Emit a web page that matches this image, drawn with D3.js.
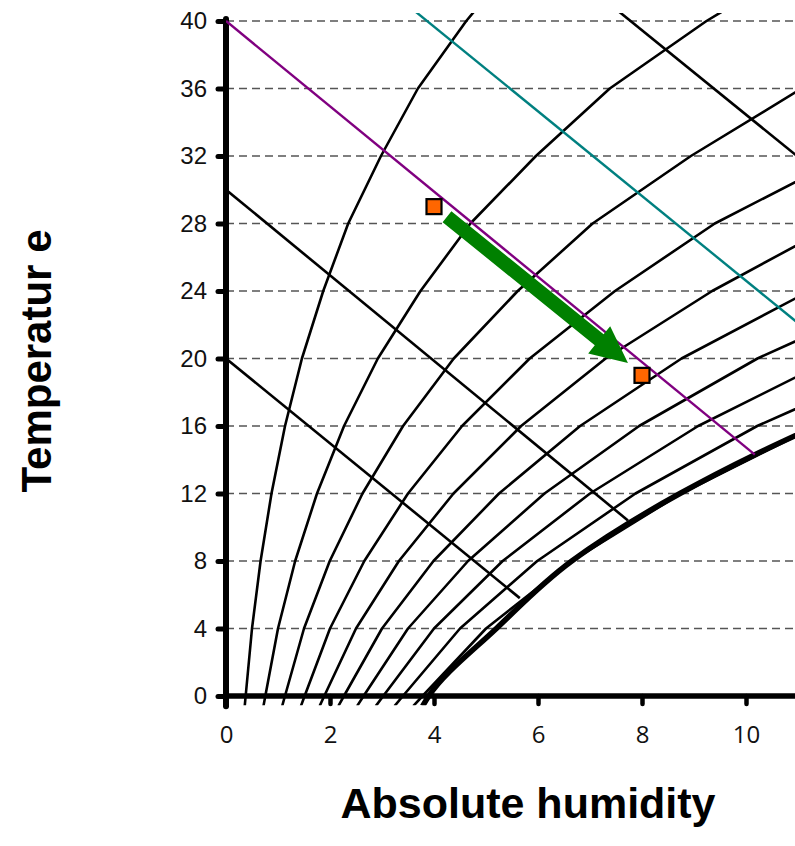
<!DOCTYPE html>
<html>
<head>
<meta charset="utf-8">
<script src="https://cdn.jsdelivr.net/npm/d3@7"></script>
<style>
  body { margin: 0; background: #fff; }
  svg { display: block; }
</style>
</head>
<body>
<svg id="chart" width="795" height="846"></svg>
<script>
// Axis ticks
const humidityTicks = [0, 2, 4, 6, 8, 10];
const tempTicks = [0, 4, 8, 12, 16, 20, 24, 28, 32, 36, 40];
const gridTemps = [4, 8, 12, 16, 20, 24, 28, 32, 36, 40];

// Saturation humidity (g/kg) at each temperature (°C), base for the RH curves
const satTemps    = [-0.6, 0,    4,   8,    12,   16,    20,   24,   28,   32,   36,   40,   44];
const satHumidity = [3.6,  3.78, 5.0, 6.65, 8.75, 11.35, 14.6, 18.7, 23.5, 29.8, 36.9, 46.2, 57.0];

// Relative humidity curves (%)
const rhLevels = [10, 20, 30, 40, 50, 60, 70, 80, 90, 100];

// Heavy saturation line
const satLineTemps    = [-0.6, 0,   4,   8,    12,   14.3,  16];
const satLineHumidity = [3.78, 3.9, 5.2, 6.65, 8.73, 10.17, 11.35];

// Constant-enthalpy lines: [humidity, temperature] end points
const enthalpyKeys = ["h20", "h30", "h40", "h50", "h60"];
const enthalpyFrom = [[0, 20], [0, 30], [0, 40], [0, 49.7], [7.3, 41.2]];
const enthalpyTo   = [[5.65, 5.8], [7.73, 10.4], [10.17, 14.3], [11.2, 21.6], [11.2, 31.45]];

// Air states before and after, and the process arrow between them
const stateHumidity = [4, 8];
const stateTemp = [29, 19];
const arrowFrom = [4.25, 28.4];
const arrowTo = [7.73, 19.73];

const enthalpyColor = { h20: "#000", h30: "#000", h40: "#800080", h50: "#008080", h60: "#000" };

const svg = d3.select("#chart");
const x = d3.scaleLinear().domain([0, 11]).range([226, 798]);
const y = d3.scaleLinear().domain([0, 40]).range([696, 21]);

svg.append("defs").append("clipPath").attr("id", "plot")
  .append("rect")
  .attr("x", x(0)).attr("y", y(40.47))
  .attr("width", 800 - x(0)).attr("height", y(-0.55) - y(40.47));

// Dashed temperature grid
svg.append("g").selectAll("line").data(gridTemps).join("line")
  .attr("x1", x(0)).attr("x2", 795)
  .attr("y1", d => y(d)).attr("y2", d => y(d))
  .attr("stroke", "#555").attr("stroke-width", 1.6)
  .attr("stroke-dasharray", "8 5");

// Y axis
const yAxis = svg.append("g").attr("transform", `translate(${x(0)},0)`)
  .call(d3.axisLeft(y).tickValues(tempTicks).tickSize(8).tickPadding(11).tickSizeOuter(0));
yAxis.select(".domain").remove();
yAxis.selectAll(".tick line").attr("stroke", "#000").attr("stroke-width", 5).attr("stroke-linecap", "round");
yAxis.selectAll(".tick text")
  .attr("font-family", "'Liberation Sans', Arial, sans-serif")
  .attr("font-size", 24).attr("fill", "#111");

// X axis
const xAxis = svg.append("g").attr("transform", `translate(0,${y(0)})`)
  .call(d3.axisBottom(x).tickValues(humidityTicks).tickSize(8).tickPadding(22).tickSizeOuter(0));
xAxis.select(".domain").remove();
xAxis.selectAll(".tick line").attr("stroke", "#000").attr("stroke-width", 4.5).attr("stroke-linecap", "round");
xAxis.selectAll(".tick text")
  .attr("font-family", "'Open Sans', sans-serif")
  .attr("font-size", 24).attr("fill", "#111");

svg.append("line")
  .attr("x1", x(0)).attr("x2", 795).attr("y1", y(0)).attr("y2", y(0))
  .attr("stroke", "#000").attr("stroke-width", 5.5);
svg.append("line")
  .attr("x1", x(0)).attr("x2", x(0)).attr("y1", y(40) - 2).attr("y2", y(-0.6))
  .attr("stroke", "#000").attr("stroke-width", 6).attr("stroke-linecap", "round");

const plot = svg.append("g").attr("clip-path", "url(#plot)");

// Relative humidity curves, scaled from the saturation values
const line = d3.line().x(d => x(d[0])).y(d => y(d[1]));
plot.selectAll("path.rh").data(rhLevels).join("path")
  .attr("class", "rh")
  .attr("d", rh => line(satTemps.map((t, i) => [satHumidity[i] * rh / 100, t])))
  .attr("fill", "none").attr("stroke", "#000")
  .attr("stroke-width", 2.6)
  .attr("stroke-linejoin", "round");

// Heavy saturation line
const smooth = d3.line().x(d => x(d[0])).y(d => y(d[1])).curve(d3.curveMonotoneY);
plot.append("path")
  .attr("d", smooth(satLineTemps.map((t, i) => [satLineHumidity[i], t])))
  .attr("fill", "none").attr("stroke", "#000").attr("stroke-width", 5.5);

// Constant-enthalpy lines
plot.selectAll("line.h").data(enthalpyKeys).join("line")
  .attr("class", "h")
  .attr("x1", (k, i) => x(enthalpyFrom[i][0])).attr("y1", (k, i) => y(enthalpyFrom[i][1]))
  .attr("x2", (k, i) => x(enthalpyTo[i][0])).attr("y2", (k, i) => y(enthalpyTo[i][1]))
  .attr("stroke", k => enthalpyColor[k])
  .attr("stroke-width", k => enthalpyColor[k] === "#000" ? 2.6 : 2.4);

// Process arrow
{
  const x0 = x(arrowFrom[0]), y0 = y(arrowFrom[1]);
  const x1 = x(arrowTo[0]), y1 = y(arrowTo[1]);
  const len = Math.hypot(x1 - x0, y1 - y0);
  const ux = (x1 - x0) / len, uy = (y1 - y0) / len;
  const nx = -uy, ny = ux;
  const shaft = 7, head = 17.5, headLen = 37;
  const bx = x1 - ux * headLen, by = y1 - uy * headLen;
  const pts = [
    [x0 + nx * shaft, y0 + ny * shaft],
    [bx + nx * shaft, by + ny * shaft],
    [bx + nx * head, by + ny * head],
    [x1, y1],
    [bx - nx * head, by - ny * head],
    [bx - nx * shaft, by - ny * shaft],
    [x0 - nx * shaft, y0 - ny * shaft]
  ];
  svg.append("polygon")
    .attr("points", pts.map(p => p.join(",")).join(" "))
    .attr("fill", "#008000");
}

// State points
svg.selectAll("rect.state").data(stateHumidity).join("rect")
  .attr("class", "state")
  .attr("x", d => x(d) - 7.5).attr("y", (d, i) => y(stateTemp[i]) - 7.5)
  .attr("width", 15).attr("height", 15)
  .attr("fill", "#ff6600").attr("stroke", "#000").attr("stroke-width", 2.2);

// Axis titles
svg.append("text")
  .attr("x", 528).attr("y", 818)
  .attr("text-anchor", "middle")
  .attr("font-family", "'Liberation Sans', Arial, sans-serif")
  .attr("font-weight", "bold").attr("font-size", 43)
  .text("Absolute humidity");
svg.append("text")
  .attr("transform", "translate(51,361) rotate(-90)")
  .attr("text-anchor", "middle")
  .attr("font-family", "'Liberation Sans', Arial, sans-serif")
  .attr("font-weight", "bold").attr("font-size", 42)
  .text("Temperatur e");
</script>
</body>
</html>
